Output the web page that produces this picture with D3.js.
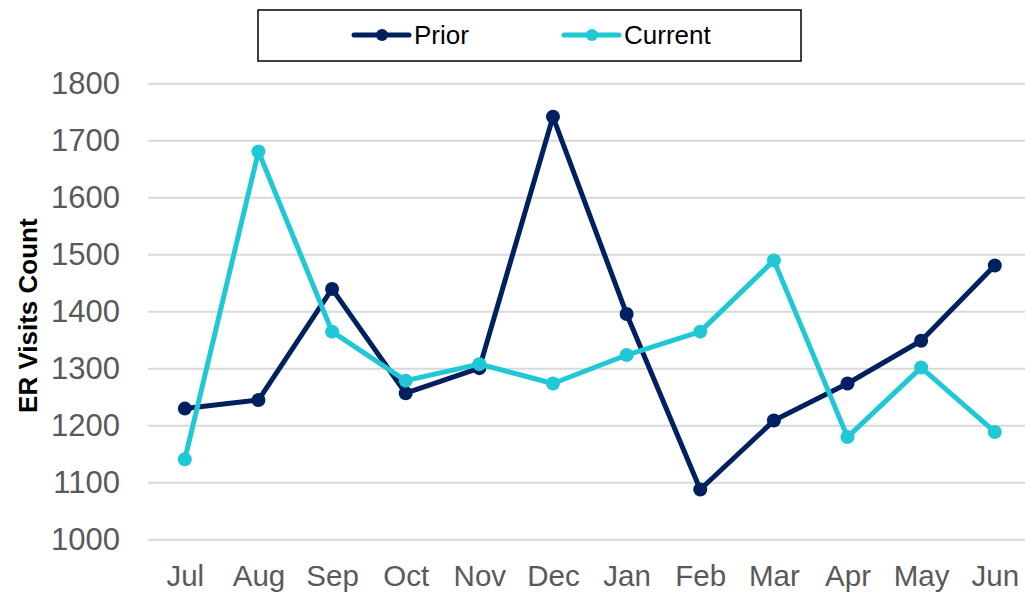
<!DOCTYPE html>
<html>
<head>
<meta charset="utf-8">
<script src="https://d3js.org/d3.v7.min.js"></script>
<style>
  body { margin: 0; background: #fff; }
  svg { display: block; font-family: "Liberation Sans", Arial, sans-serif; }
</style>
</head>
<body>
<div id="chart"></div>
<script>
// Chart data
const months = ["Jul", "Aug", "Sep", "Oct", "Nov", "Dec", "Jan", "Feb", "Mar", "Apr", "May", "Jun"];
const prior = [1230, 1245, 1440, 1257, 1301, 1742, 1396, 1088, 1209, 1274, 1349, 1481];
const current = [1141, 1681, 1365, 1279, 1308, 1274, 1324, 1365, 1490, 1180, 1302, 1189];
const yTicks = [1000, 1100, 1200, 1300, 1400, 1500, 1600, 1700, 1800];

const series = [
    { name: "Prior", values: prior, color: "#002060" },
    { name: "Current", values: current, color: "#1FC8D4" }
];

const width = 1025, height = 595;
const plot = { left: 148, right: 1031.6, top: 83.7, bottom: 539.7 };

const svg = d3.select("#chart").append("svg")
    .attr("width", width)
    .attr("height", height);

const x = d3.scalePoint()
    .domain(months)
    .range([plot.left, plot.right])
    .padding(0.5);

const y = d3.scaleLinear()
    .domain([1000, 1800])
    .range([plot.bottom, plot.top]);

// Gridlines
svg.append("g")
    .selectAll("line")
    .data(yTicks)
    .enter().append("line")
    .attr("x1", plot.left)
    .attr("x2", plot.right)
    .attr("y1", d => y(d))
    .attr("y2", d => y(d))
    .attr("stroke", "#D9D9D9")
    .attr("stroke-width", 2);

// Y axis labels
const yAxis = svg.append("g")
    .attr("transform", `translate(${plot.left - 28},0)`)
    .call(d3.axisLeft(y).tickValues(yTicks).tickSize(0).tickPadding(0).tickFormat(d3.format("d")));
yAxis.select(".domain").remove();
yAxis.selectAll("text")
    .attr("font-size", "31px")
    .attr("font-family", "Liberation Sans, Arial, sans-serif")
    .attr("fill", "#595959");

// X axis labels
const xAxis = svg.append("g")
    .attr("transform", `translate(0,${plot.bottom + 25})`)
    .call(d3.axisBottom(x).tickSize(0).tickPadding(0));
xAxis.select(".domain").remove();
xAxis.selectAll("text")
    .attr("font-size", "29.5px")
    .attr("font-family", "Liberation Sans, Arial, sans-serif")
    .attr("fill", "#595959");

// Y axis title
svg.append("text")
    .attr("transform", `translate(37,${(plot.top + plot.bottom) / 2 + 4}) rotate(-90)`)
    .attr("text-anchor", "middle")
    .attr("font-size", "26px")
    .attr("font-weight", "bold")
    .attr("fill", "#000")
    .text("ER Visits Count");

// Lines and markers
const line = d3.line()
    .x((d, i) => x(months[i]))
    .y(d => y(d));

series.forEach(s => {
    const g = svg.append("g");
    g.append("path")
        .datum(s.values)
        .attr("fill", "none")
        .attr("stroke", s.color)
        .attr("stroke-width", 5)
        .attr("stroke-linejoin", "round")
        .attr("d", line);
    g.selectAll("circle")
        .data(s.values)
        .enter().append("circle")
        .attr("cx", (d, i) => x(months[i]))
        .attr("cy", d => y(d))
        .attr("r", 7)
        .attr("fill", s.color);
});

// Legend
const legend = svg.append("g");
legend.append("rect")
    .attr("x", 258)
    .attr("y", 10)
    .attr("width", 543)
    .attr("height", 51)
    .attr("fill", "#fff")
    .attr("stroke", "#000")
    .attr("stroke-width", 1.5);

const legendItems = [
    { s: series[0], x0: 354 },
    { s: series[1], x0: 564 }
];
legendItems.forEach(item => {
    const g = legend.append("g").attr("transform", `translate(${item.x0},35)`);
    g.append("line")
        .attr("x1", 0).attr("x2", 55)
        .attr("y1", 0).attr("y2", 0)
        .attr("stroke", item.s.color)
        .attr("stroke-width", 5)
        .attr("stroke-linecap", "round");
    g.append("circle")
        .attr("cx", 28).attr("cy", 0).attr("r", 6)
        .attr("fill", item.s.color);
    g.append("text")
        .attr("x", 60)
        .attr("y", 9)
        .attr("font-size", "26px")
        .attr("fill", "#000")
        .text(item.s.name);
});
</script>
</body>
</html>
